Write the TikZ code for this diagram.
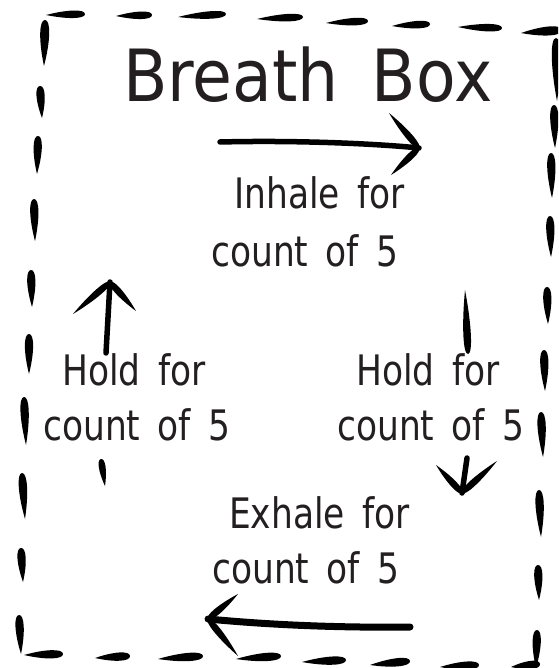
\documentclass[tikz,border=0pt]{standalone}
\usepackage{fontspec}
\setmainfont{DejaVu Sans}[FakeStretch=0.82,WordSpace=1.6]
\newfontfamily\ttlfont{DejaVu Sans}[FakeStretch=0.9,WordSpace=1.6]
\usetikzlibrary{calc}
\definecolor{txtc}{HTML}{231F20}
% tapered brush stroke: #1 blunt end, #2 pointed end, #3 half width
\newcommand\brush[3]{\fill[black] #1 .. controls ($#1!#3!90:#2$) and ($#1!0.45!#2!#3!90:#2$) .. #2 .. controls ($#1!0.45!#2!#3!-90:#2$) and ($#1!#3!-90:#2$) .. #1 -- cycle;}
\begin{document}
\begin{tikzpicture}[x=1pt,y=-1pt,
  txt/.style={inner sep=0pt, anchor=base west, text=txtc, font=\fontsize{42}{48}\selectfont},
  ttl/.style={inner sep=0pt, anchor=base west, text=txtc, font=\ttlfont\fontsize{72}{80}\selectfont},
  shaft/.style={draw=black, line width=5.5pt, line cap=round}]
\useasboundingbox (0,0) rectangle (558,668);
\clip (0,0) rectangle (558,668);
% texts
\node[ttl] (title) at (123,102) {Breath Box};
\node[txt] (in1) at (234,208) {Inhale for};
\node[txt] (in2) at (211,266) {count of 5};
\node[txt] (hl1) at (62,385) {Hold for};
\node[txt] (hl2) at (43,440) {count of 5};
\node[txt] (hr1) at (356,385) {Hold for};
\node[txt] (hr2) at (337,440) {count of 5};
\node[txt] (ex1) at (229,528) {Exhale for};
\node[txt] (ex2) at (212,583) {count of 5};
% top dashes
\brush{(85,14)}{(46,15)}{5pt}
\brush{(152,15)}{(116,16)}{5pt}
\brush{(226,14)}{(178,17)}{5pt}
\brush{(303,17)}{(257,19)}{5pt}
\brush{(368,21)}{(326,23)}{5pt}
\brush{(430,24)}{(392,26)}{5pt}
\brush{(502,28)}{(458,27)}{5pt}
\brush{(562,30)}{(521,33)}{6pt}
% right dashes
\brush{(556,38)}{(557,101)}{6pt}
\brush{(554,105)}{(555,148)}{5.5pt}
\brush{(551,153)}{(552,198)}{5.5pt}
\brush{(550,216)}{(551,257)}{5.5pt}
\brush{(547,287)}{(548,324)}{5.5pt}
\brush{(544,350)}{(545,391)}{5.5pt}
\brush{(541,412)}{(543,457)}{5.5pt}
\brush{(539,490)}{(541,537)}{5.5pt}
\brush{(538,565)}{(539,600)}{5.5pt}
\brush{(537,630)}{(536,668)}{5.5pt}
% left dashes
\brush{(45,20)}{(44,66)}{6pt}
\brush{(40,86)}{(42,118)}{5.5pt}
\brush{(38,136)}{(37,174)}{5.5pt}
\brush{(34,199)}{(35,241)}{5.5pt}
\brush{(31,270)}{(32,307)}{5.5pt}
\brush{(29,334)}{(29,374)}{5.5pt}
\brush{(24,397)}{(26,445)}{5.5pt}
\brush{(22,473)}{(25,519)}{5.5pt}
\brush{(21,548)}{(23,582)}{5.5pt}
\brush{(19,615)}{(21,654)}{5.5pt}
% bottom dashes
\brush{(63,654)}{(24,655)}{5.5pt}
\brush{(130,656)}{(95,658)}{5.5pt}
\brush{(203,656)}{(158,659)}{5.5pt}
\brush{(281,656)}{(236,659)}{5.5pt}
\brush{(346,660)}{(302,662)}{5.5pt}
\brush{(410,661)}{(370,665)}{5.5pt}
\brush{(479,665)}{(440,667)}{5.5pt}
\brush{(540,664)}{(511,667)}{5.5pt}
% inhale arrow
\coordinate (inS) at (220,142);
\coordinate (inT) at (419,148);
\draw[shaft] (inS) .. controls (300,140) and (380,144) .. (inT);
\brush{(inT)}{(389,113)}{4.5pt}
\brush{(inT)}{(391,175)}{4.5pt}
% left hold arrow (up)
\coordinate (hlB) at (106,353);
\coordinate (hlT) at (110,282);
\draw[shaft] (hlB) -- (hlT);
\brush{(hlT)}{(73,314)}{4.5pt}
\brush{(hlT)}{(136,311)}{4.5pt}
\brush{(101,459)}{(105,486)}{4.5pt}
% right hold arrow (down)
\coordinate (hrA) at (465,290);
\coordinate (hrB) at (468,354);
\brush{(hrB)}{(hrA)}{5pt}
\coordinate (hrC) at (467,458);
\coordinate (hrT) at (462,493);
\draw[shaft] (hrC) -- (hrT);
\brush{(hrT)}{(436,465)}{4.5pt}
\brush{(hrT)}{(497,461)}{4.5pt}
% exhale arrow
\coordinate (exS) at (410,627);
\coordinate (exT) at (208,619);
\draw[shaft, line width=7pt] (exS) .. controls (330,628) and (260,624) .. (exT);
\brush{(exT)}{(238,594)}{4.5pt}
\brush{(exT)}{(238,656)}{4.5pt}
\end{tikzpicture}
\end{document}
